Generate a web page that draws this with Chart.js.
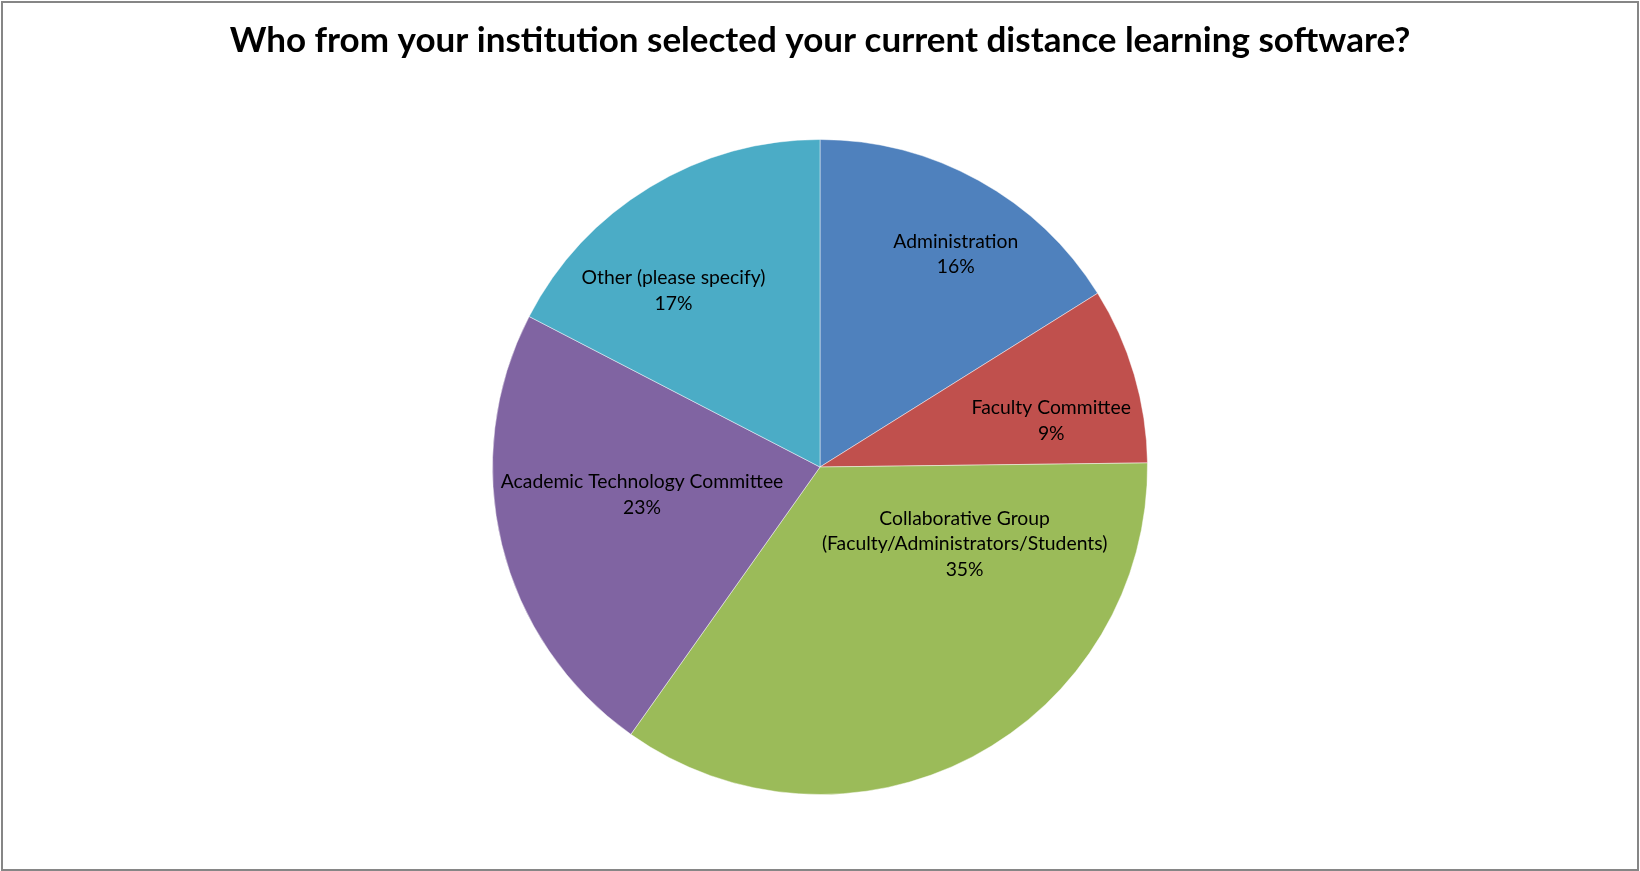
<!DOCTYPE html>
<html>
<head>
<meta charset="utf-8">
<script src="https://cdn.jsdelivr.net/npm/chart.js@4.4.0/dist/chart.umd.min.js"></script>
<style>
html,body{margin:0;padding:0;background:#ffffff;}
#wrap{width:1640px;height:871px;position:relative;}
canvas{display:block;}
</style>
</head>
<body>
<div id="wrap"><canvas id="c" width="1640" height="871"></canvas></div>
<script>
// ---- data ----
const categories = [
  'Administration',
  'Faculty Committee',
  'Collaborative Group (Faculty/Administrators/Students)',
  'Academic Technology Committee',
  'Other (please specify)'
];
const labelLines = [
  ['Administration'],
  ['Faculty Committee'],
  ['Collaborative Group', '(Faculty/Administrators/Students)'],
  ['Academic Technology Committee'],
  ['Other (please specify)']
];
const shares = [16.1, 8.7, 35.0, 22.8, 17.4];
const titleText = 'Who from your institution selected your current distance learning software?';

// ---- styles ----
const sliceColors = ['#4F81BD', '#C0504D', '#9BBB59', '#8064A2', '#4BACC6'];
const FONT = 'Lato, "Open Sans", "DejaVu Sans", sans-serif';
// label placement relative to slice bisector: radius fraction and clockwise angle offset (deg)
const labelRadiusFrac = [0.77, 0.72, 0.50, 0.55, 0.70];
const labelAngleOffset = [3.6, 5.1, -34.3, 4.8, -8.4];

// fit font sizes to the reference text widths
const mctx = document.createElement('canvas').getContext('2d');
mctx.font = 'bold 100px ' + FONT;
const titleSize = 100 * 1181 / mctx.measureText(titleText).width;
mctx.font = '100px ' + FONT;
const labelSize = 100 * 125 / mctx.measureText('Administration').width;
const labelLineH = 25.5;

const titleLineH = titleSize * 1.2;
const titlePadTop = 41 - titleLineH / 2;
const titlePadBottom = 139 - titlePadTop - titleLineH;

const frame = {
  id: 'frame',
  beforeDraw(chart) {
    const ctx = chart.ctx;
    ctx.save();
    ctx.fillStyle = '#ffffff';
    ctx.fillRect(0, 0, chart.width, chart.height);
    ctx.restore();
  },
  afterDraw(chart) {
    const ctx = chart.ctx;
    ctx.save();
    ctx.strokeStyle = '#868686';
    ctx.lineWidth = 2;
    ctx.strokeRect(2, 2, chart.width - 4, chart.height - 3);
    ctx.restore();
  }
};

const sliceLabels = {
  id: 'sliceLabels',
  afterDatasetsDraw(chart) {
    const ctx = chart.ctx;
    const meta = chart.getDatasetMeta(0);
    const data = chart.data.datasets[0].data;
    const total = data.reduce((a, b) => a + b, 0);
    ctx.save();
    ctx.fillStyle = '#000000';
    ctx.font = labelSize.toFixed(2) + 'px ' + FONT;
    ctx.textAlign = 'center';
    ctx.textBaseline = 'middle';
    meta.data.forEach((arc, i) => {
      const p = arc.getProps(['x', 'y', 'startAngle', 'endAngle', 'outerRadius'], true);
      const mid = (p.startAngle + p.endAngle) / 2 + labelAngleOffset[i] * Math.PI / 180;
      const r = p.outerRadius * labelRadiusFrac[i];
      const cx = p.x + Math.cos(mid) * r;
      const cy = p.y + Math.sin(mid) * r;
      const lines = labelLines[i].concat([Math.round(data[i] / total * 100) + '%']);
      const y0 = cy - (lines.length - 1) * labelLineH / 2;
      lines.forEach((t, k) => ctx.fillText(t, cx, y0 + k * labelLineH));
    });
    ctx.restore();
  }
};

new Chart(document.getElementById('c'), {
  type: 'pie',
  data: {
    labels: categories,
    datasets: [{
      data: shares,
      backgroundColor: sliceColors,
      borderColor: 'rgba(255,255,255,0.45)',
      borderWidth: 1
    }]
  },
  options: {
    responsive: false,
    animation: false,
    devicePixelRatio: 1,
    layout: { padding: { top: 0, bottom: 76, left: 0, right: 0 } },
    plugins: {
      legend: { display: false },
      tooltip: { enabled: false },
      title: {
        display: true,
        text: titleText,
        color: '#000000',
        font: { family: FONT, weight: 'bold', size: titleSize, lineHeight: 1.2 },
        padding: { top: titlePadTop, bottom: titlePadBottom }
      }
    }
  },
  plugins: [frame, sliceLabels]
});
</script>
</body>
</html>
